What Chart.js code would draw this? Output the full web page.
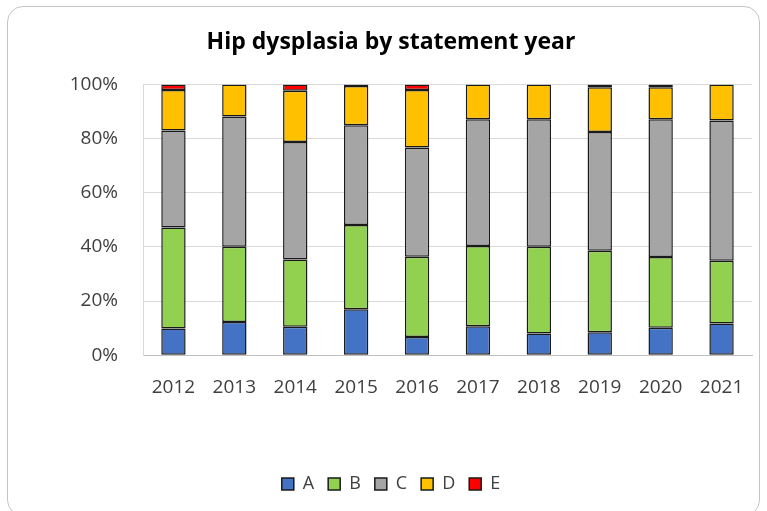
<!DOCTYPE html>
<html>
<head>
<meta charset="utf-8">
<script src="https://cdn.jsdelivr.net/npm/chart.js@4"></script>
<style>
  html, body { margin: 0; padding: 0; background: #fff; }
  #wrap { position: relative; width: 767px; height: 511px; }
  #frame {
    position: absolute; left: 7px; top: 6px; width: 753px; height: 510px;
    border: 1px solid #c4c4c4; border-radius: 16px; box-sizing: border-box;
    pointer-events: none;
  }
</style>
</head>
<body>
<div id="wrap">
  <canvas id="chart"></canvas>
  <div id="frame"></div>
</div>
<script>
const years = ['2012', '2013', '2014', '2015', '2016', '2017', '2018', '2019', '2020', '2021'];
const gradeA = [9.9, 12.3, 10.5, 17.0, 6.7, 10.7, 8.0, 8.5, 10.1, 11.7];
const gradeB = [37.3, 27.8, 24.9, 31.1, 29.7, 29.7, 32.1, 30.1, 26.2, 23.2];
const gradeC = [35.8, 48.1, 43.4, 36.9, 40.4, 46.8, 47.1, 43.9, 50.9, 51.8];
const gradeD = [15.0, 11.8, 18.9, 14.5, 21.2, 12.8, 12.8, 16.5, 11.8, 13.3];
const gradeE = [2.0, 0, 2.3, 0.5, 2.0, 0, 0, 1.0, 1.0, 0];
const yTicks = [0, 20, 40, 60, 80, 100];

const font = "'Open Sans', sans-serif";
const textColor = '#404040';

const series = (label, data, color) => ({
  label: label,
  data: data,
  backgroundColor: color,
  borderColor: '#1a1a1a',
  borderWidth: 1.5,
  borderSkipped: false,
  barPercentage: 0.4,
  categoryPercentage: 1
});

new Chart(document.getElementById('chart'), {
  type: 'bar',
  data: {
    labels: years,
    datasets: [
      series('A', gradeA, '#4472c4'),
      series('B', gradeB, '#92d050'),
      series('C', gradeC, '#a5a5a5'),
      series('D', gradeD, '#ffc000'),
      series('E', gradeE, '#ff0000')
    ]
  },
  options: {
    responsive: true,
    maintainAspectRatio: false,
    animation: false,
    layout: { padding: { left: 30, right: 15, top: 0, bottom: 8 } },
    plugins: {
      title: {
        display: true,
        text: 'Hip dysplasia by statement year',
        color: '#000',
        font: { family: font, size: 23, weight: 'bold' },
        padding: { top: 29, bottom: 28 }
      },
      legend: {
        position: 'bottom',
        labels: {
          color: textColor,
          font: { family: font, size: 18 },
          boxWidth: 12,
          boxHeight: 12,
          padding: 14
        }
      },
      tooltip: { enabled: false }
    },
    scales: {
      x: {
        stacked: true,
        grid: { display: false, drawTicks: false },
        border: { display: true, color: '#bfbfbf' },
        ticks: { color: textColor, font: { family: font, size: 19 }, padding: 21, maxRotation: 0 },
        afterFit: (axis) => { axis.height += 41; }
      },
      y: {
        stacked: true,
        min: 0,
        max: 100,
        afterBuildTicks: (axis) => { axis.ticks = yTicks.map(v => ({ value: v })); },
        afterFit: (axis) => { axis.width = 113; },
        grid: { color: '#d9d9d9', drawTicks: false },
        border: { display: true, color: '#d9d9d9' },
        ticks: {
          color: textColor,
          font: { family: font, size: 19 },
          padding: 25,
          callback: (v) => v + '%'
        }
      }
    }
  }
});
</script>
</body>
</html>
